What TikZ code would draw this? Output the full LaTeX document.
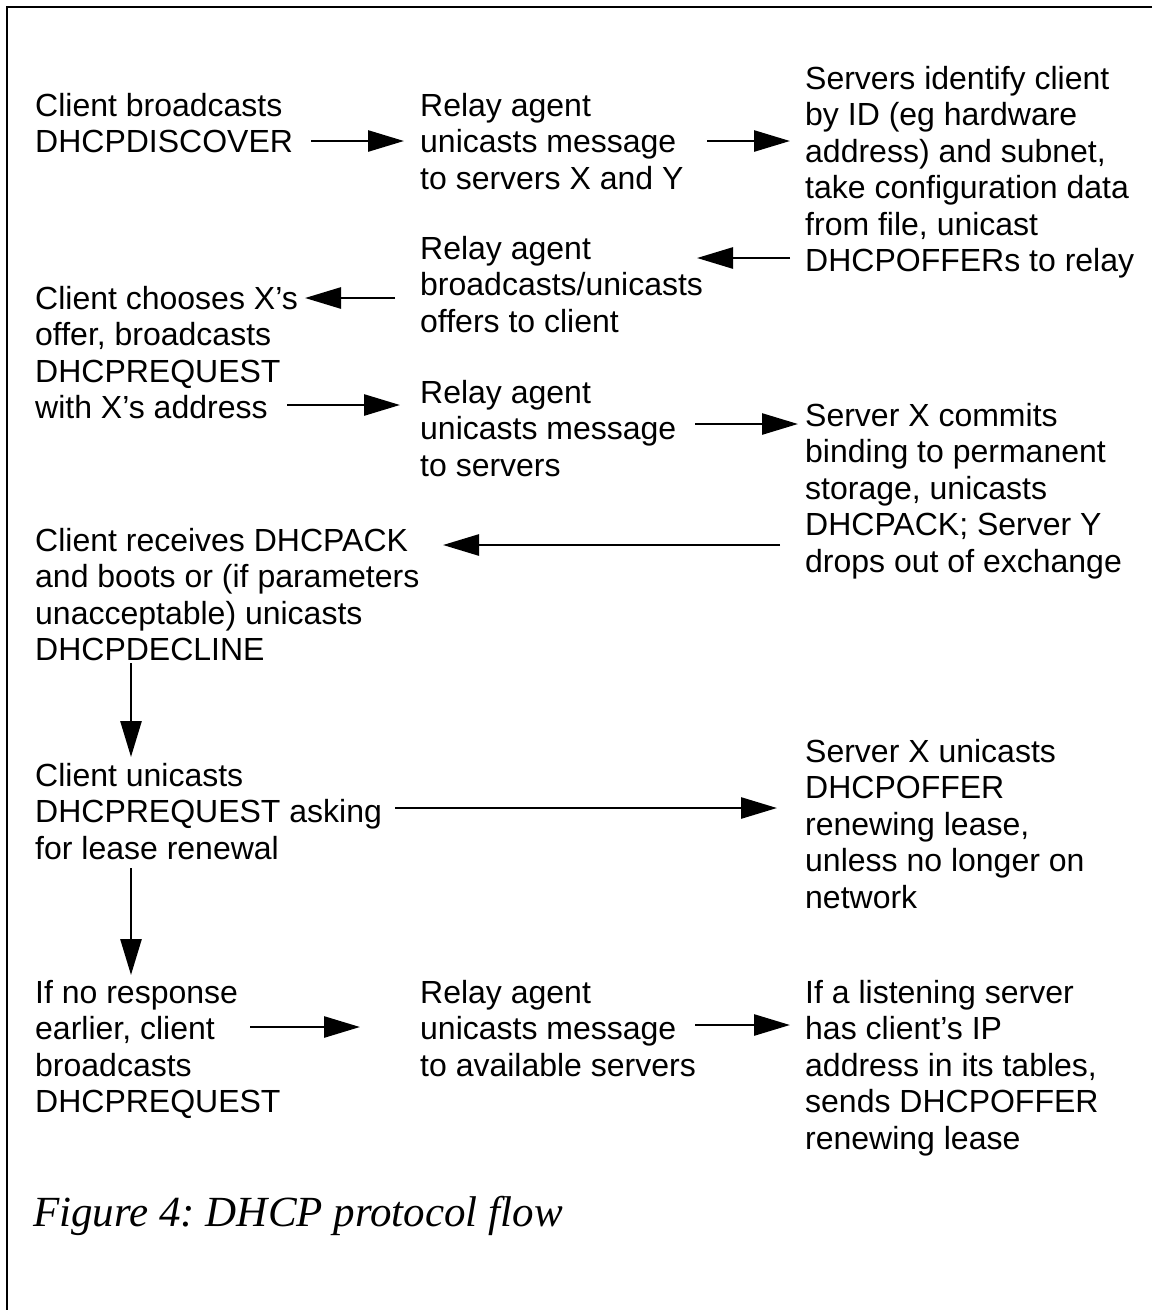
\documentclass[tikz,border=0pt]{standalone}
\usepackage{fontspec}
\setmainfont{Liberation Sans}
\newfontfamily\capfont{Liberation Serif}
\usetikzlibrary{arrows.meta}
\begin{document}
\frenchspacing
\begin{tikzpicture}[x=1pt,y=-1pt,
  txt/.style={anchor=base west, align=left, inner sep=0pt, font=\fontsize{32}{36.5}\selectfont},
  arr/.style={line width=2.7pt, -{Triangle[length=36pt,width=21pt]}},
  frame/.style={line width=2pt}]
\useasboundingbox (0,0) rectangle (1152,1310);
\draw[frame] (1152,7) -- (7,7) -- (7,1310);

% anchors are at the baseline of the LAST line of each block
\node[txt] (A) at (35,152.5) {Client broadcasts\\DHCPDISCOVER};
\node[txt] (B) at (420,189) {Relay agent\\unicasts message\\to servers X and Y};
\node[txt] (C) at (805,271.5) {Servers identify client\\by ID (eg hardware\\address) and subnet,\\take configuration data\\from file, unicast\\DHCPOFFERs to relay};
\node[txt] (D) at (420,332) {Relay agent\\broadcasts/unicasts\\offers to client};
\node[txt] (E) at (35,418.5) {Client chooses X’s\\offer, broadcasts\\DHCPREQUEST\\with X’s address};
\node[txt] (F) at (420,476) {Relay agent\\unicasts message\\to servers};
\node[txt] (G) at (805,572) {Server X commits\\binding to permanent\\storage, unicasts\\DHCPACK; Server Y\\drops out of exchange};
\node[txt] (H) at (35,660.5) {Client receives DHCPACK\\and boots or (if parameters\\unacceptable) unicasts\\DHCPDECLINE};
\node[txt] (I) at (35,859) {Client unicasts\\DHCPREQUEST asking\\for lease renewal};
\node[txt] (J) at (805,908) {Server X unicasts\\DHCPOFFER\\renewing lease,\\unless no longer on\\network};
\node[txt] (K) at (35,1112.5) {If no response\\earlier, client\\broadcasts\\DHCPREQUEST};
\node[txt] (L) at (420,1076) {Relay agent\\unicasts message\\to available servers};
\node[txt] (M) at (805,1149) {If a listening server\\has client’s IP\\address in its tables,\\sends DHCPOFFER\\renewing lease};

\node[anchor=base west, inner sep=0pt, font=\capfont\itshape\fontsize{43}{48}\selectfont] (cap) at (33,1226) {Figure 4: DHCP protocol flow};

\coordinate (a1) at (311,141); \coordinate (b1) at (404,141);
\coordinate (a2) at (707,141); \coordinate (b2) at (790,141);
\coordinate (a3) at (790,258); \coordinate (b3) at (697,258);
\coordinate (a4) at (395,298); \coordinate (b4) at (305,298);
\coordinate (a5) at (287,405); \coordinate (b5) at (400,405);
\coordinate (a6) at (695,424); \coordinate (b6) at (798,424);
\coordinate (a7) at (780,545); \coordinate (b7) at (443,545);
\coordinate (a8) at (131,663); \coordinate (b8) at (131,757);
\coordinate (a9) at (395,808); \coordinate (b9) at (777,808);
\coordinate (a10) at (131,868); \coordinate (b10) at (131,975);
\coordinate (a11) at (250,1027); \coordinate (b11) at (360,1027);
\coordinate (a12) at (695,1025); \coordinate (b12) at (790,1025);

\foreach \i in {1,...,12} \draw[arr] (a\i) -- (b\i);
\end{tikzpicture}
\end{document}
